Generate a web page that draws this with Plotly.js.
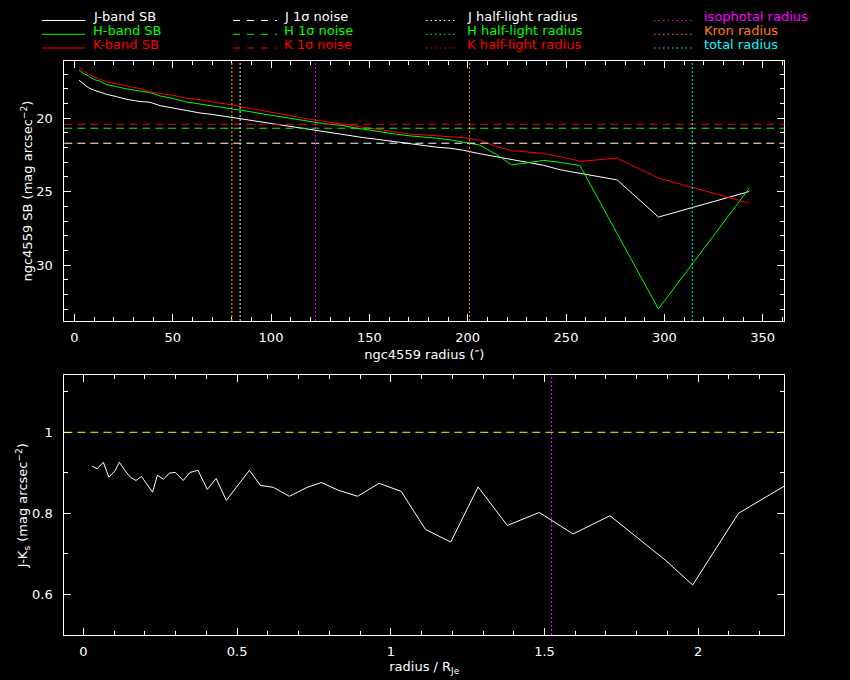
<!DOCTYPE html>
<html>
<head>
<meta charset="utf-8">
<script src="https://cdn.plot.ly/plotly-3.0.1.min.js"></script>
<style>html,body{margin:0;padding:0;background:#000;}#chart{width:850px;height:680px;}</style>
</head>
<body>
<div id="chart"></div>
<script>
// ---- data ----
const radius = [2.4, 4.6, 7.1, 9.7, 13.1, 16.5, 21.5, 26.6, 33.4, 38.5, 43.6, 50.4, 57.1, 63.9, 70.7, 77.5, 84.3, 89.3, 96.1, 102.9, 109.7, 116.5, 121.5, 126.6, 131.7, 136.8, 141.9, 147.0, 153.7, 158.8, 163.9, 170.7, 177.5, 184.2, 191.0, 197.8, 206.3, 214.8, 222.4, 230.0, 238.5, 247.0, 257.1, 276.0, 297.0, 343.2];
const sbJ = [17.41, 17.66, 17.91, 18.07, 18.23, 18.37, 18.53, 18.71, 18.86, 18.91, 19.14, 19.32, 19.50, 19.64, 19.75, 19.89, 20.07, 20.16, 20.27, 20.41, 20.57, 20.70, 20.82, 20.93, 21.02, 21.13, 21.22, 21.32, 21.43, 21.52, 21.63, 21.75, 21.86, 21.97, 22.04, 22.18, 22.42, 22.62, 22.82, 23.00, 23.20, 23.51, 23.74, 24.20, 26.73, 24.99];
const sbH = [16.71, 16.94, 17.12, 17.35, 17.48, 17.71, 17.85, 18.00, 18.14, 18.25, 18.48, 18.66, 18.89, 19.03, 19.14, 19.27, 19.43, 19.55, 19.71, 19.86, 20.00, 20.16, 20.27, 20.36, 20.43, 20.50, 20.64, 20.75, 20.86, 20.98, 21.09, 21.20, 21.27, 21.36, 21.47, 21.61, 21.83, 22.49, 23.17, 23.04, 22.87, 23.00, 23.22, 27.85, 32.99, 24.76];
const sbK = [16.51, 16.78, 16.98, 17.17, 17.35, 17.51, 17.66, 17.80, 17.98, 18.21, 18.30, 18.44, 18.64, 18.73, 18.91, 19.03, 19.21, 19.32, 19.48, 19.66, 19.82, 20.00, 20.11, 20.23, 20.34, 20.41, 20.50, 20.61, 20.75, 20.86, 20.98, 21.09, 21.13, 21.18, 21.24, 21.32, 21.50, 21.93, 22.20, 22.30, 22.40, 22.61, 22.93, 22.72, 24.07, 25.78];

const noiseLevels = [21.70, 20.68, 20.41];            // J, H, K 1-sigma noise
const noiseColors = ['#ffffff', '#00ff00', '#ff0000'];
const markerRadii = [84.3, 80.0, 80.35, 122.6, 200.9, 314.2];  // J,H,K half-light, isophotal, Kron, total
const markerColors = ['#ffffff', '#00ff00', '#ff0000', '#ff00ff', '#ff8000', '#00ffff'];

const rNorm = [0.029, 0.045, 0.065, 0.083, 0.103, 0.117, 0.136, 0.153, 0.171, 0.189, 0.225, 0.241, 0.260, 0.280, 0.299, 0.325, 0.347, 0.373, 0.403, 0.432, 0.465, 0.540, 0.576, 0.618, 0.670, 0.728, 0.774, 0.829, 0.892, 0.962, 1.034, 1.113, 1.195, 1.284, 1.379, 1.483, 1.593, 1.713, 1.892, 1.982, 2.131, 2.28];
const jMinusK = [0.916, 0.910, 0.926, 0.889, 0.905, 0.926, 0.905, 0.889, 0.881, 0.891, 0.852, 0.894, 0.884, 0.899, 0.901, 0.881, 0.901, 0.906, 0.859, 0.886, 0.832, 0.906, 0.869, 0.864, 0.842, 0.864, 0.876, 0.857, 0.842, 0.874, 0.854, 0.760, 0.729, 0.865, 0.770, 0.802, 0.749, 0.794, 0.685, 0.623, 0.800, 0.867];
const colourRef = [1.0];
const isoNorm = [1.523];

const legendLabels = [
  ['J-band SB', 'H-band SB', 'K-band SB'],
  ['J 1σ noise', 'H 1σ noise', 'K 1σ noise'],
  ['J half-light radius', 'H half-light radius', 'K half-light radius'],
  ['isophotal radius', 'Kron radius', 'total radius']
];
const legendColors = [
  ['#ffffff', '#00ff00', '#ff0000'],
  ['#ffffff', '#00ff00', '#ff0000'],
  ['#ffffff', '#00ff00', '#ff0000'],
  ['#ff00ff', '#ff8000', '#00ffff']
];
const legendDash = ['solid', '7px,7px', '1.5px,3px', '1.5px,3px'];

// ---- layout helpers ----
const W = 850, H = 680;
const FONT = 'DejaVu Sans';
const px = v => v / W;
const py = v => 1 - v / H;

const traces = [
  {x: radius, y: sbJ, mode: 'lines', line: {color: '#ffffff', width: 1}, xaxis: 'x', yaxis: 'y', name: 'J-band SB'},
  {x: radius, y: sbH, mode: 'lines', line: {color: '#00ff00', width: 1}, xaxis: 'x', yaxis: 'y', name: 'H-band SB'},
  {x: radius, y: sbK, mode: 'lines', line: {color: '#ff0000', width: 1}, xaxis: 'x', yaxis: 'y', name: 'K-band SB'},
  {x: rNorm, y: jMinusK, mode: 'lines', line: {color: '#ffffff', width: 1}, xaxis: 'x2', yaxis: 'y2', name: 'J-Ks'}
];

const shapes = [];
noiseLevels.forEach((v, i) => shapes.push({type: 'line', xref: 'x domain', yref: 'y', x0: 0, x1: 1, y0: v, y1: v,
  line: {color: noiseColors[i], width: 1, dash: '8px,5px'}}));
markerRadii.forEach((v, i) => shapes.push({type: 'line', xref: 'x', yref: 'y domain', x0: v, x1: v, y0: 0, y1: 1,
  line: {color: markerColors[i], width: 1, dash: '2px,2px'}}));
colourRef.forEach(v => shapes.push({type: 'line', xref: 'x2 domain', yref: 'y2', x0: 0, x1: 1, y0: v, y1: v,
  line: {color: '#ffff00', width: 1, dash: '8px,5px'}}));
isoNorm.forEach(v => shapes.push({type: 'line', xref: 'x2', yref: 'y2 domain', x0: v, x1: v, y0: 0, y1: 1,
  line: {color: '#ff00ff', width: 1, dash: '2px,2px'}}));

// legend (drawn in paper space)
const colStart = [42, 233, 426, 654];
const colEnd = [85, 277, 455, 693];
const colText = [92, 283, 466, 703];
const rowLine = [20.5, 34.3, 48];
const rowText = [16.5, 30.5, 44.5];
const annotations = [];
legendLabels.forEach((col, c) => col.forEach((lab, r) => {
  shapes.push({type: 'line', xref: 'paper', yref: 'paper', x0: px(colStart[c]), x1: px(colEnd[c]),
    y0: py(rowLine[r]), y1: py(rowLine[r]), line: {color: legendColors[c][r], width: 1, dash: legendDash[c]}});
  annotations.push({xref: 'paper', yref: 'paper', x: px(colText[c]), y: py(rowText[r]), xanchor: 'left', yanchor: 'middle',
    text: lab, showarrow: false, borderpad: 0, font: {family: FONT, size: 13, color: legendColors[c][r]}});
}));

function axisBase(extra) {
  return Object.assign({
    showline: true, linecolor: '#ffffff', linewidth: 1, mirror: 'ticks',
    ticks: 'inside', ticklen: 7, tickwidth: 1, tickcolor: '#ffffff',
    showgrid: false, zeroline: false, automargin: false,
    tickfont: {family: FONT, size: 13, color: '#ffffff'}
  }, extra);
}

const layout = {
  width: W, height: H,
  paper_bgcolor: '#000000', plot_bgcolor: '#000000',
  margin: {l: 0, r: 0, t: 0, b: 0},
  showlegend: false,
  font: {family: FONT, size: 13, color: '#ffffff'},
  xaxis: axisBase({domain: [px(64.3), px(784.3)], anchor: 'y', range: [-5.1, 361], tick0: 0, dtick: 50,
    minor: {ticks: 'inside', ticklen: 4, dtick: 10, tick0: 0, tickcolor: '#ffffff', showgrid: false},
    ticklabelstandoff: 4,
    title: {text: 'ngc4559 radius (″)', font: {family: FONT, size: 13, color: '#ffffff'}, standoff: 6}}),
  yaxis: axisBase({domain: [1 - 321 / H, 1 - 61.3 / H], anchor: 'x', range: [33.81, 16.12], tick0: 0, dtick: 5,
    minor: {ticks: 'inside', ticklen: 4, dtick: 1, tick0: 0, tickcolor: '#ffffff', showgrid: false},
    ticklabelstandoff: 8,
    title: {text: 'ngc4559 SB (mag arcsec<sup>−2</sup>)', font: {family: FONT, size: 13, color: '#ffffff'}, standoff: 0}}),
  xaxis2: axisBase({domain: [px(64.3), px(784.3)], anchor: 'y2', range: [-0.062, 2.28], tick0: 0, dtick: 0.5,
    minor: {ticks: 'inside', ticklen: 4, dtick: 0.1, tick0: 0, tickcolor: '#ffffff', showgrid: false},
    ticklabelstandoff: 4,
    title: {text: 'radius / R<sub>Je</sub>', font: {family: FONT, size: 13, color: '#ffffff'}, standoff: 4}}),
  yaxis2: axisBase({domain: [1 - 635 / H, 1 - 375.3 / H], anchor: 'x2', range: [0.4995, 1.1407], tick0: 0, dtick: 0.2,
    minor: {ticks: 'inside', ticklen: 4, dtick: 0.1, tick0: 0, tickcolor: '#ffffff', showgrid: false},
    ticklabelstandoff: 8,
    title: {text: 'J-K<sub>s</sub> (mag arcsec<sup>−2</sup>)', font: {family: FONT, size: 13, color: '#ffffff'}, standoff: 0}}),
  shapes: shapes,
  annotations: annotations
};

Plotly.newPlot('chart', traces, layout, {staticPlot: true, displayModeBar: false});
</script>
</body>
</html>
